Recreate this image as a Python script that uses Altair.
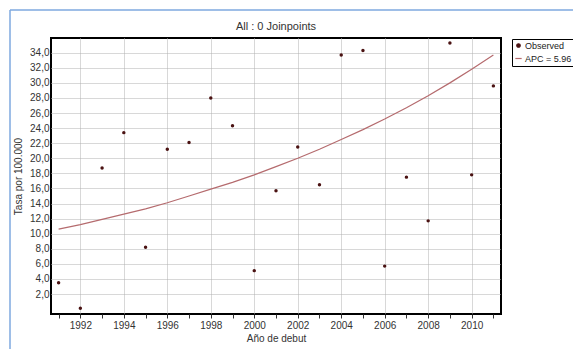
import altair as alt
import pandas as pd

years = list(range(1991, 2012))
observed = [3.5, 0.1, 18.7, 23.4, 8.2, 21.2, 22.1, 28.0, 24.3, 5.1, 15.7,
            21.5, 16.5, 33.7, 34.3, 5.7, 17.5, 11.7, 35.3, 17.8, 29.6]
fitted = [10.6, 11.2, 11.9, 12.6, 13.3, 14.1, 15.0, 15.9, 16.8, 17.8, 18.9,
          20.0, 21.2, 22.5, 23.8, 25.2, 26.7, 28.3, 30.0, 31.8, 33.7]
series_names = ["Observed", "APC = 5.96"]
y_ticks = [2, 4, 6, 8, 10, 12, 14, 16, 18, 20, 22, 24, 26, 28, 30, 32, 34]

obs_df = pd.DataFrame({"year": years, "rate": observed, "series": series_names[0]})
fit_df = pd.DataFrame({"year": years, "rate": fitted, "series": series_names[1]})

FONT = "Liberation Sans"
PT_COLOR = "#4a1212"
LINE_COLOR = "#b56b6e"

x_enc = alt.X(
    "year:Q",
    scale=alt.Scale(domain=[1990.65, 2011.35], nice=False, zero=False),
    axis=alt.Axis(
        values=years,
        labelExpr="datum.value % 2 == 0 ? datum.value : ''",
        gridOpacity=alt.expr("datum.value % 2 == 0 ? 1 : 0"),
        title="Año de debut",
    ),
)
y_enc = alt.Y(
    "rate:Q",
    scale=alt.Scale(domain=[-0.65, 35.95], nice=False, zero=False),
    axis=alt.Axis(
        values=y_ticks,
        labelExpr="replace(format(datum.value, '.1f'), '.', ',')",
        title="Tasa por 100.000",
        ticks=False,
    ),
)

legend_props = dict(
    title=None,
    orient="none",
    legendX=461,
    legendY=1,
    strokeColor="black",
    fillColor="white",
    padding=2,
    labelFont=FONT,
    labelFontSize=9,
    labelColor="#222",
    symbolStrokeWidth=1.2,
    symbolStrokeColor=LINE_COLOR,
    rowPadding=3,
    labelOffset=2,
)

color_enc = alt.Color(
    "series:N",
    scale=alt.Scale(domain=series_names, range=[PT_COLOR, LINE_COLOR]),
    legend=alt.Legend(**legend_props),
)
shape_enc = alt.Shape(
    "series:N",
    scale=alt.Scale(domain=series_names, range=["circle", "stroke"]),
    legend=alt.Legend(**legend_props),
)
size_enc = alt.Size(
    "series:N",
    scale=alt.Scale(domain=series_names, range=[12, 40]),
    legend=alt.Legend(**legend_props),
)

line = alt.Chart(fit_df).mark_line(strokeWidth=1.2, color=LINE_COLOR).encode(
    x=x_enc, y=y_enc, color=color_enc
)
points = alt.Chart(obs_df).mark_point(filled=True, opacity=1).encode(
    x=x_enc, y=y_enc, color=color_enc, shape=shape_enc, size=size_enc
)

frame_data = alt.Data(values=[{"k": 1}])
frame_top = alt.Chart(frame_data).mark_rule(color="#7ea9df", strokeWidth=1.5).encode(
    x=alt.value(-41), x2=alt.value(600), y=alt.value(-28)
)
frame_left = alt.Chart(frame_data).mark_rule(color="#7ea9df", strokeWidth=1.5).encode(
    x=alt.value(-41), y=alt.value(-28), y2=alt.value(400)
)

chart = (
    alt.layer(frame_top, frame_left, line, points)
    .properties(
        width=450,
        height=276,
        autosize=alt.AutoSizeParams(type="none"),
        padding={"left": 43, "top": 30, "right": 72, "bottom": 35},
        title=alt.TitleParams(
            "All : 0 Joinpoints",
            font=FONT,
            fontSize=11,
            fontWeight="normal",
            color="#333",
            anchor="middle",
            frame="group",
            offset=5,
            dy=28,
        ),
    )
    .configure_view(stroke="black", strokeWidth=2)
    .configure_axis(
        labelFont=FONT,
        labelFontSize=10,
        labelColor="#333",
        titleFont=FONT,
        titleFontSize=10,
        titleFontWeight="normal",
        titleColor="#333",
        domain=False,
        gridColor="#b0b0b0",
        gridDash=[1, 1],
        gridWidth=1,
        tickColor="#333",
    )
    .configure_axisX(tickSize=4, labelPadding=2, titlePadding=3)
    .configure_axisY(labelPadding=2, titlePadding=6)
)

chart.save("out.html", embed_options={"renderer": "svg", "actions": False})
